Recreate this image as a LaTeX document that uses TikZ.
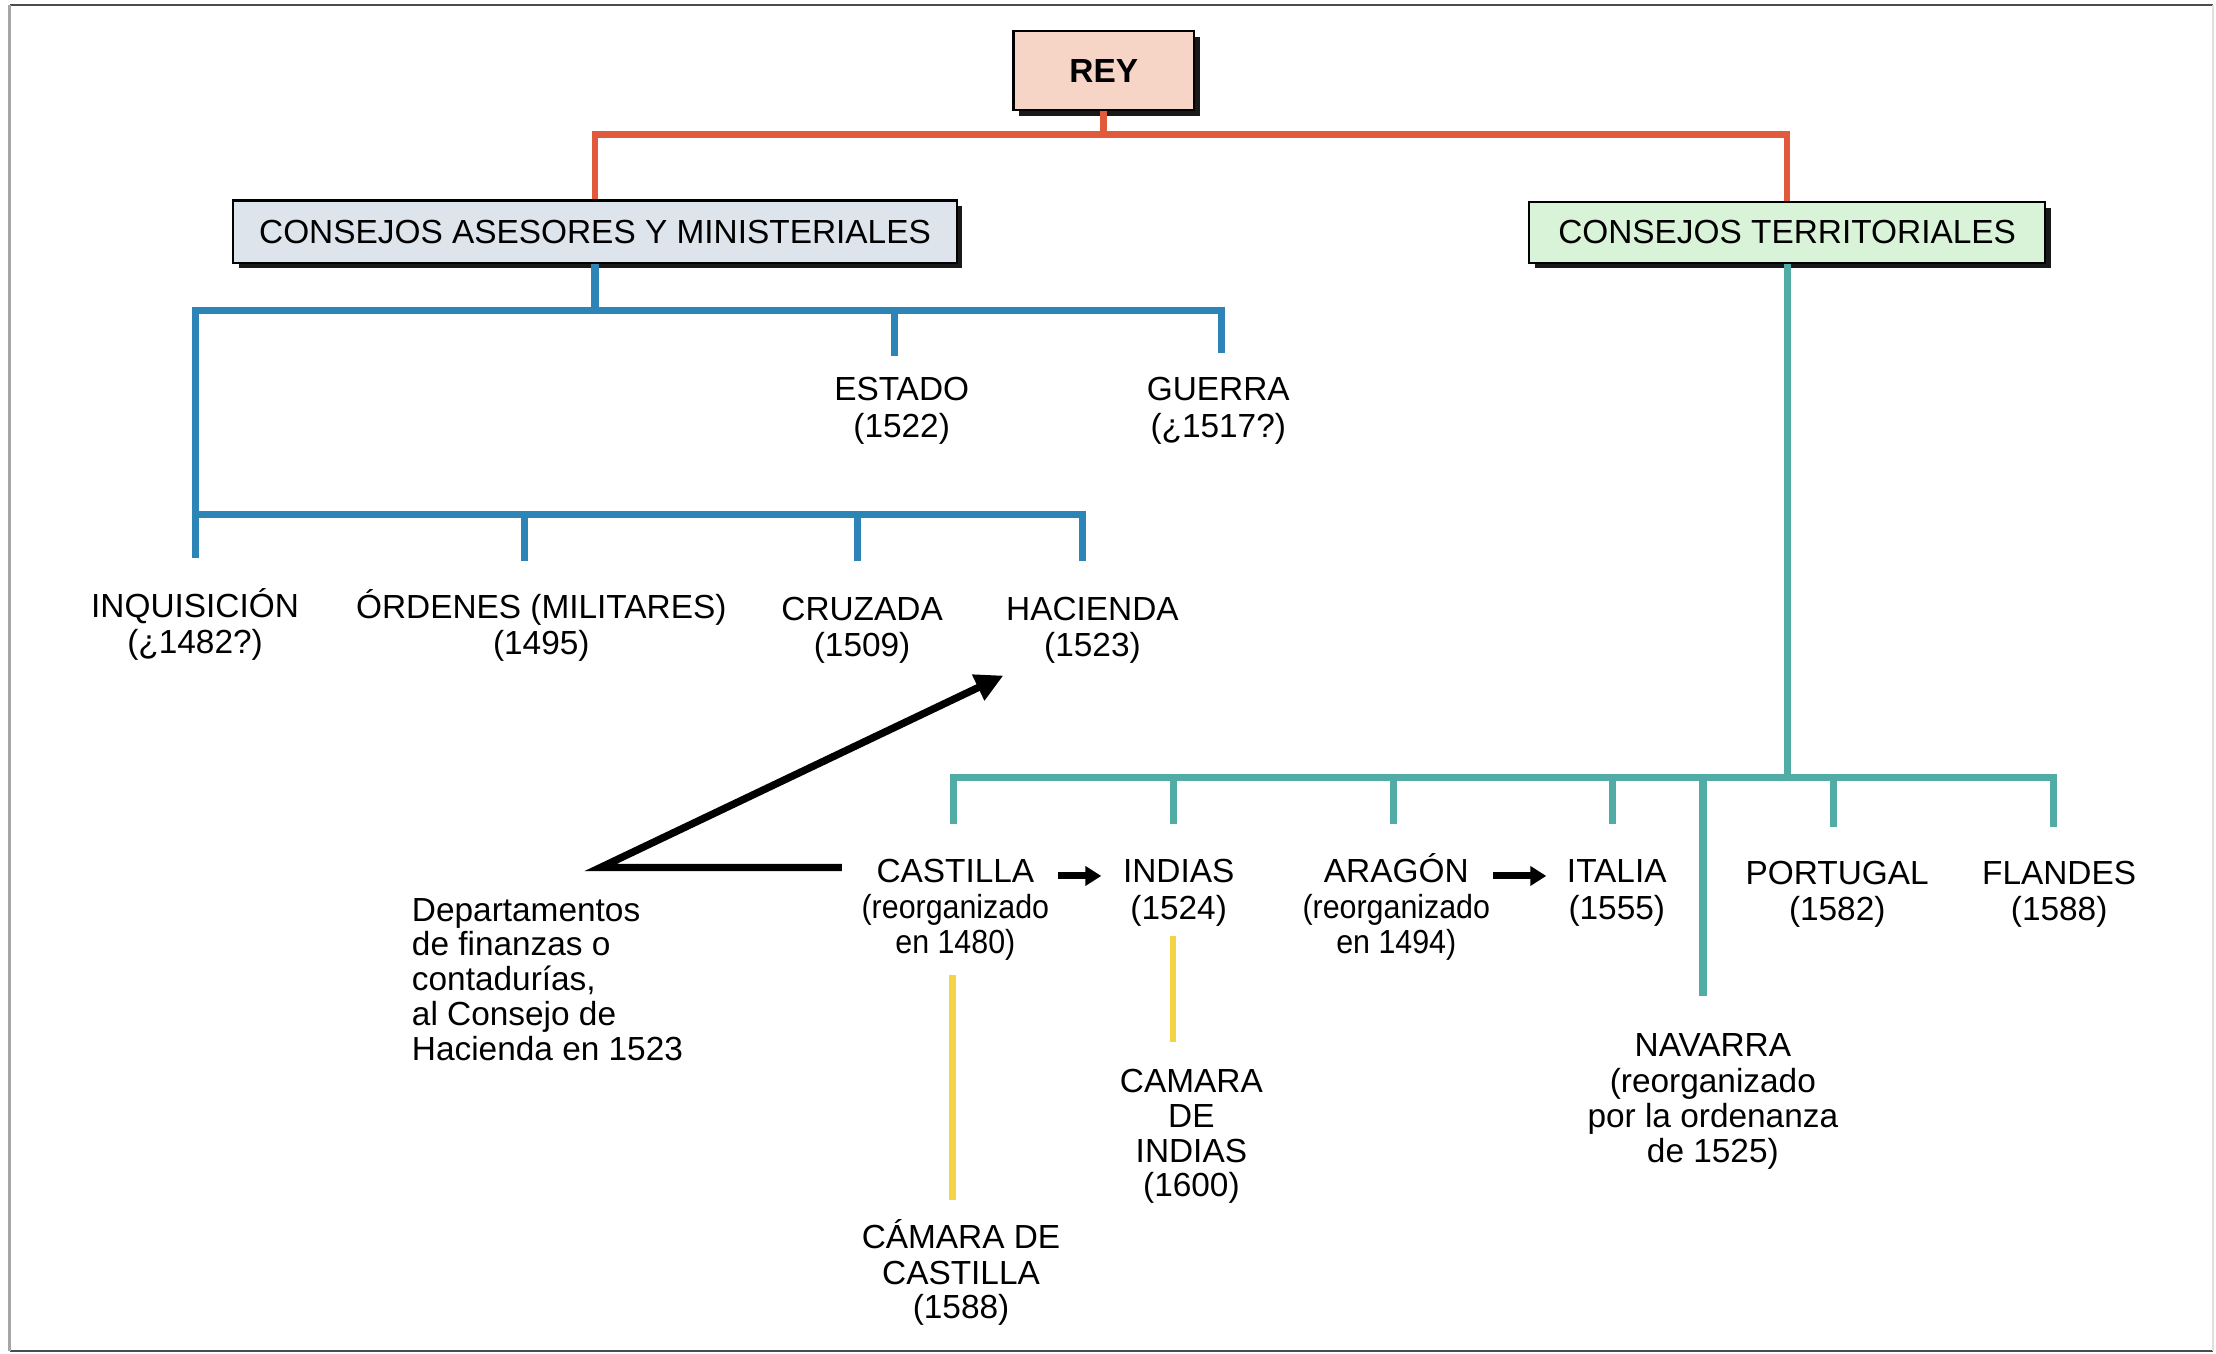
\documentclass[tikz,border=0pt]{standalone}
\usepackage{fontspec}
\setmainfont{Liberation Sans}
\usetikzlibrary{arrows.meta,shadows}
\definecolor{cred}{RGB}{226,90,60}
\definecolor{cblue}{RGB}{45,132,182}
\definecolor{cteal}{RGB}{82,172,166}
\definecolor{cyel}{RGB}{242,212,70}
\definecolor{reyfill}{RGB}{246,212,198}
\definecolor{camfill}{RGB}{222,228,236}
\definecolor{ctfill}{RGB}{216,243,216}
\newcommand\lbfont{\fontsize{9.5}{9.9}\selectfont}
\newcommand\narrow[1]{\scalebox{0.91}[1]{#1}}
\tikzset{
 box/.style={draw=black, line width=0.7pt, inner sep=0pt, font=\lbfont,
   drop shadow={shadow xshift=0.55mm, shadow yshift=-0.55mm, fill=black, opacity=0.9}},
 ttl/.style={inner sep=0pt, anchor=north, font=\lbfont, text height=6.93pt, text depth=2.97pt},
 sub/.style={inner sep=0pt, anchor=north, align=center, font=\lbfont, execute at begin node=\strut},
 redline/.style={draw=cred, line width=1.9pt},
 blueline/.style={draw=cblue, line width=2pt},
 tealline/.style={draw=cteal, line width=2pt},
 yelline/.style={draw=cyel, line width=1.9pt},
 bigarrow/.style={draw=black, line width=2.1pt, line join=miter, -{Triangle[length=2.8mm,width=2.7mm]}},
 smallarrow/.style={draw=black, line width=2pt, -{Triangle[length=1.6mm,width=1.9mm]}},
}
\begin{document}
\begin{tikzpicture}[x=0.14133mm,y=-0.14133mm]
\useasboundingbox (0,0) rectangle (1568,958);
% frame
\draw[black!70, line width=0.8pt] (7,3.5) -- (1566,3.5);
\draw[black!70, line width=0.8pt] (7,956) -- (1566,956);
\draw[black!35, line width=0.8pt] (7,3.5) -- (7,956);
\draw[black!12, line width=0.6pt] (1566,3.5) -- (1566,956);

% boxes
\node[box, fill=reyfill, minimum width=18.09mm, minimum height=7.91mm, font=\lbfont\bfseries] (rey) at (781,50) {REY};
\node[box, fill=camfill, minimum width=72.36mm, minimum height=6.22mm] (cam) at (421,164) {CONSEJOS ASESORES Y MINISTERIALES};
\node[box, fill=ctfill, minimum width=51.59mm, minimum height=6.08mm] (ct) at (1264.5,164.5) {CONSEJOS TERRITORIALES};

% labels, upper branch
\node[ttl] (est) at (638,266) {ESTADO};
\node[sub] (estd) at (est.south) {(1522)};
\node[ttl] (gue) at (862,266) {GUERRA};
\node[sub] (gued) at (gue.south) {(¿1517?)};
\node[ttl] (inq) at (138,419) {INQUISICIÓN};
\node[sub] (inqd) at (inq.south) {(¿1482?)};
\node[ttl] (ord) at (383,420) {ÓRDENES (MILITARES)};
\node[sub] (ordd) at (ord.south) {(1495)};
\node[ttl] (cru) at (610,421) {CRUZADA};
\node[sub] (crud) at (cru.south) {(1509)};
\node[ttl] (hac) at (773,421) {HACIENDA};
\node[sub] (hacd) at (hac.south) {(1523)};

% labels, territorial branch
\node[ttl] (cas) at (676,607) {CASTILLA};
\node[sub] (casd) at (cas.south) {\narrow{(reorganizado}\\\narrow{en 1480)}};
\node[ttl] (ind) at (834,607) {INDIAS};
\node[sub] (indd) at (ind.south) {(1524)};
\node[ttl] (ara) at (988,607) {ARAGÓN};
\node[sub] (arad) at (ara.south) {\narrow{(reorganizado}\\\narrow{en 1494)}};
\node[ttl] (ita) at (1144,607) {ITALIA};
\node[sub] (itad) at (ita.south) {(1555)};
\node[ttl] (por) at (1300,608) {PORTUGAL};
\node[sub] (pord) at (por.south) {(1582)};
\node[ttl] (fla) at (1457,608) {FLANDES};
\node[sub] (flad) at (fla.south) {(1588)};
\node[ttl] (nav) at (1212,730) {NAVARRA};
\node[sub] (navd) at (nav.south) {(reorganizado\\por la ordenanza\\de 1525)};
\node[sub] (camind) at (843,756) {CAMARA\\DE\\INDIAS\\(1600)};
\node[ttl] (camcas) at (680,866) {CÁMARA DE};
\node[sub] (camcasd) at (camcas.south) {CASTILLA\\(1588)};
\node[sub, anchor=north west, align=left] (dep) at (291,635) {Departamentos\\de finanzas o\\contadurías,\\al Consejo de\\Hacienda en 1523};

% junction coordinates and line ends
\coordinate (rj) at (0,95);
\coordinate (bj) at (0,220);
\coordinate (bj2) at (0,364);
\coordinate (tj) at (0,550);
\coordinate (inqT) at (138,395);
\coordinate (ordT) at (371,397);
\coordinate (cruT) at (607,397);
\coordinate (hacT) at (766,397);
\coordinate (estT) at (633,252);
\coordinate (gueT) at (864,250);
\coordinate (casT) at (675,583);
\coordinate (indT) at (830,583);
\coordinate (araT) at (986,583);
\coordinate (itaT) at (1141,583);
\coordinate (navT) at (1205,705);
\coordinate (porT) at (1297,585);
\coordinate (flaT) at (1453,585);
\coordinate (cy1) at (674,690);
\coordinate (cy2) at (674,849);
\coordinate (iy1) at (830,662);
\coordinate (iy2) at (830,737);
\coordinate (bend) at (425,612);
\coordinate (hacArr) at (710,478);
\coordinate (cstart) at ([yshift=0.85mm]cas.west);

% red connectors
\draw[redline] (rey.south) -- (rey.south |- rj);
\draw[redline] (cam.north) |- (ct.north |- rj) -- (ct.north);

% blue connectors
\draw[blueline] (cam.south) -- (cam.south |- bj);
\draw[blueline] (inqT) -- (inqT |- bj) -| (gueT);
\draw[blueline] (estT) -- (estT |- bj);
\draw[blueline] (inqT |- bj2) -| (hacT);
\draw[blueline] (ordT) -- (ordT |- bj2);
\draw[blueline] (cruT) -- (cruT |- bj2);

% teal connectors
\draw[tealline] (ct.south) -- (ct.south |- tj);
\draw[tealline] (casT) -- (casT |- tj) -| (flaT);
\draw[tealline] (indT) -- (indT |- tj);
\draw[tealline] (araT) -- (araT |- tj);
\draw[tealline] (itaT) -- (itaT |- tj);
\draw[tealline] (navT) -- (navT |- tj);
\draw[tealline] (porT) -- (porT |- tj);

% yellow connectors
\draw[yelline] (cy1) -- (cy2);
\draw[yelline] (iy1) -- (iy2);

% black arrows
\draw[bigarrow, shorten <=3.4mm] (cstart) -- (cstart -| bend) -- (hacArr);
\draw[smallarrow, shorten <=2.3mm, shorten >=2.1mm] (cas.east) -- (ind.west);
\draw[smallarrow, shorten <=2.4mm, shorten >=2.0mm] (ara.east) -- (ita.west);
\end{tikzpicture}
\end{document}
